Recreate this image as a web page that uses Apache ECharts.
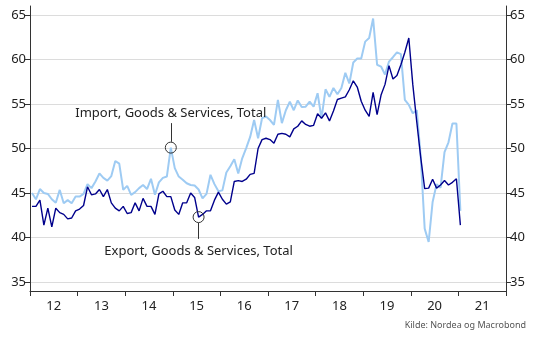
<!DOCTYPE html>
<html><head><meta charset="utf-8">
<script src="https://cdn.jsdelivr.net/npm/echarts@6/dist/echarts.min.js"></script>
<style>html,body{margin:0;padding:0;background:#fff}#c{width:538px;height:340px}</style>
</head><body><div id="c"></div>
<script>
// Monthly data, Jan 2012 .. Jan 2021
const startYear = 2012;
const exportValues = [43.5,43.5,44.2,41.4,43.3,41.2,43.3,42.8,42.6,42.1,42.2,43.0,
43.2,43.6,45.7,44.8,44.9,45.4,44.6,45.4,43.9,43.3,43.0,43.5,
42.7,42.8,43.9,43.0,44.4,43.5,43.5,42.6,44.9,45.2,44.6,44.6,
43.1,42.6,43.9,43.9,45.0,44.5,42.3,42.6,43.0,43.0,44.2,45.1,
44.3,43.75,44.0,46.3,46.4,46.3,46.55,47.1,47.2,50.0,51.0,51.15,
51.0,50.6,51.6,51.7,51.6,51.3,52.2,52.5,53.1,52.7,52.5,52.6,
53.9,53.4,54.0,53.1,54.2,55.5,55.65,55.8,56.6,57.6,56.9,55.3,
54.3,53.6,56.3,53.8,56.0,57.2,59.3,57.8,58.2,59.4,60.8,62.4,
57.2,53.0,49.0,45.5,45.55,46.55,45.55,45.9,46.4,45.9,46.2,46.6,
41.4];
const importValues = [45.0,44.3,45.45,45.0,44.9,44.3,43.9,45.35,43.85,44.2,43.85,44.6,
44.6,44.9,46.0,45.55,46.3,47.2,46.7,46.4,46.9,48.6,48.3,45.35,
45.8,44.8,45.1,45.55,45.9,45.45,46.6,44.8,46.2,46.7,46.85,50.1,
47.8,46.85,46.5,46.1,45.9,45.85,45.4,44.4,44.9,47.05,46.0,45.2,
45.3,47.3,48.0,48.8,47.2,48.9,50.05,51.3,53.2,51.15,53.4,53.6,
53.2,52.65,55.45,52.85,54.3,55.25,54.3,55.4,54.65,54.7,55.25,54.7,
56.2,53.4,56.65,55.8,56.8,56.1,56.8,58.5,57.3,59.65,60.1,60.1,
62.0,62.4,64.6,59.4,59.2,58.3,59.75,60.25,60.8,60.6,55.45,54.9,
53.95,54.3,49.1,41.0,39.5,44.0,46.0,45.6,49.6,50.7,52.8,52.8,
43.0];
const yearLabels = ['12','13','14','15','16','17','18','19','20','21'];
const importLabel = 'Import, Goods & Services, Total';
const exportLabel = 'Export, Goods & Services, Total';
const importMarkIndex = 35;
const exportMarkIndex = 42;
const importLabelValue = 52.85;
const exportLabelValue = 39.85;
const sourceText = 'Kilde: Nordea og Macrobond';

const t = i => startYear + (i + 0.5) / 12;
const exportData = exportValues.map((v, i) => [t(i), v]);
const importData = importValues.map((v, i) => [t(i), v]);

const FONT = 'Noto Sans';
const axisCol = '#333';
const yAxisCommon = {
  type: 'value', min: 34, max: 66, splitNumber: 6,
  axisLine: {show: true, lineStyle: {color: axisCol, width: 1}},
  axisTick: {show: true, length: 5, lineStyle: {color: axisCol}},
  axisLabel: {show: true, color: '#222', fontFamily: FONT, fontSize: 13, showMinLabel: false, showMaxLabel: false, margin: 4},
  splitLine: {show: true, showMinLine: false, showMaxLine: false, lineStyle: {color: '#dcdcdc', width: 1}}
};
const chart = echarts.init(document.getElementById('c'), null, {renderer: 'canvas'});
const ring = (idx, vals) => ({coord: [t(idx), vals[idx]], symbol: 'circle', symbolSize: 11,
  itemStyle: {color: 'rgba(255,255,255,0)', borderColor: '#333', borderWidth: 1}});
const mlStyle = {color: '#333', width: 1, type: 'solid'};
chart.setOption({
  animation: false,
  grid: {left: 30, right: 32, top: 6, bottom: 49},
  xAxis: [
    {type: 'value', min: 2012, max: 2022, interval: 1,
     axisLine: {show: true, onZero: false, lineStyle: {color: axisCol}},
     axisTick: {show: true, length: 5, lineStyle: {color: axisCol}},
     axisLabel: {show: false}, splitLine: {show: false}},
    {type: 'value', min: 2012, max: 2022, interval: 0.5, position: 'bottom', offset: 0,
     axisLine: {show: false}, axisTick: {show: false}, splitLine: {show: false},
     axisLabel: {show: true, color: '#222', fontFamily: FONT, fontSize: 13, margin: 9,
       formatter: v => (Math.abs(v % 1 - 0.5) < 1e-6 ? yearLabels[Math.floor(v) - startYear] : '')}}
  ],
  yAxis: [
    Object.assign({position: 'left'}, yAxisCommon),
    Object.assign({position: 'right'}, yAxisCommon, {splitLine: {show: false}})
  ],
  series: [
    {name: 'Import', type: 'line', data: importData, showSymbol: false, symbol: 'none',
     lineStyle: {color: '#9ecbf3', width: 2}, z: 2,
     markPoint: {silent: true, label: {show: false}, data: [ring(importMarkIndex, importValues)]},
     markLine: {silent: true, symbol: 'none', lineStyle: mlStyle,
       label: {show: true, position: 'end', formatter: importLabel, color: '#222', fontFamily: FONT, fontSize: 13, distance: 3},
       data: [[{coord: [t(importMarkIndex), importValues[importMarkIndex] + 0.65]}, {coord: [t(importMarkIndex), importLabelValue]}]]}},
    {name: 'Export', type: 'line', data: exportData, showSymbol: false, symbol: 'none',
     lineStyle: {color: '#00008c', width: 1.4}, z: 3,
     markPoint: {silent: true, label: {show: false}, data: [ring(exportMarkIndex, exportValues)]},
     markLine: {silent: true, symbol: 'none', lineStyle: mlStyle,
       label: {show: true, position: 'end', formatter: exportLabel, color: '#222', fontFamily: FONT, fontSize: 13, distance: 6},
       data: [[{coord: [t(exportMarkIndex), exportValues[exportMarkIndex] - 0.65]}, {coord: [t(exportMarkIndex), exportLabelValue]}]]}}
  ],
  graphic: [{type: 'text', right: 12, bottom: 10,
    style: {text: sourceText, fill: '#555', font: '9px "Noto Sans"'}}]
});
</script></body></html>
